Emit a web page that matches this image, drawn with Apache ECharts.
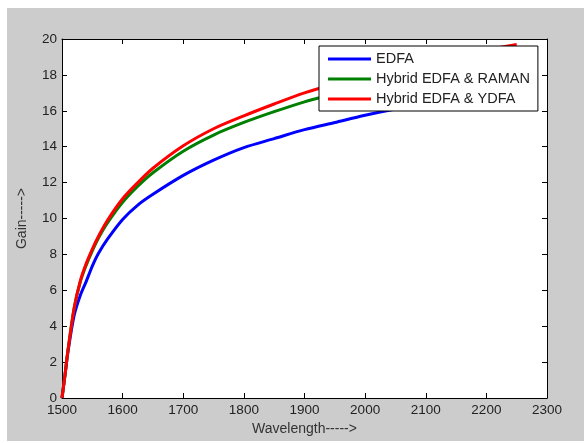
<!DOCTYPE html>
<html>
<head>
<meta charset="utf-8">
<script src="https://cdn.jsdelivr.net/npm/echarts@6/dist/echarts.min.js"></script>
<style>
  html, body { margin: 0; padding: 0; background: #fff; }
  #chart { position: absolute; left: 7px; top: 8px; width: 577px; height: 433px; background: #cccccc; }
</style>
</head>
<body>
<div id="chart"></div>
<script>
// wavelength samples
const wavelength = [1500, 1505, 1510, 1520, 1530, 1540, 1550, 1560, 1575, 1600, 1625, 1650,
  1700, 1750, 1800, 1850, 1900, 1950, 2000, 2050, 2100, 2150, 2200, 2250]
const edfa = [0, 1.3, 2.6, 4.6, 5.7, 6.5, 7.35, 8.05, 8.85, 9.95, 10.75, 11.35,
  12.4, 13.25, 13.95, 14.45, 14.95, 15.35, 15.75, 16.1, 16.4, 16.7, 17.0, 17.2]
const edfaRaman = [0, 1.3, 2.7, 5.0, 6.45, 7.4, 8.2, 8.9, 9.75, 10.9, 11.8, 12.55,
  13.75, 14.65, 15.35, 15.95, 16.5, 16.95, 17.4, 17.8, 18.15, 18.5, 18.8, 19.1]
const edfaYdfa = [0, 1.3, 2.7, 5.0, 6.5, 7.5, 8.3, 9.0, 9.9, 11.1, 12.0, 12.8,
  14.05, 15.0, 15.72, 16.38, 17.0, 17.5, 17.95, 18.35, 18.75, 19.1, 19.4, 19.7]
const seriesNames = ['EDFA', 'Hybrid EDFA & RAMAN', 'Hybrid EDFA & YDFA']

const font = "'Liberation Sans', Arial, sans-serif"
const myChart = echarts.init(document.getElementById('chart'))

const pairs = (ys) => wavelength.map((x, i) => [x, ys[i]])

const boxAxis = {
  axisLine: { show: true, onZero: false, lineStyle: { color: '#000', width: 1 } },
  axisTick: { show: true, inside: true, length: 5, lineStyle: { color: '#000' } },
  splitLine: { show: false }
}

myChart.setOption({
  animation: false,
  color: ['#0000ff', '#008000', '#ff0000'],
  grid: {
    left: 55,
    top: 31,
    right: 37,
    bottom: 40,
    show: true,
    backgroundColor: '#fff',
    borderWidth: 0
  },
  legend: {
    data: seriesNames,
    orient: 'vertical',
    left: 312,
    top: 38,
    padding: [3, 8, 2, 9],
    itemGap: 0,
    itemWidth: 43,
    itemHeight: 3,
    icon: 'rect',
    backgroundColor: '#fff',
    borderColor: '#000',
    borderWidth: 1,
    borderRadius: 0,
    textStyle: { fontFamily: font, fontSize: 14.5, color: '#222', lineHeight: 20 }
  },
  xAxis: [
    Object.assign({
      type: 'value',
      min: 1500,
      max: 2300,
      interval: 100,
      position: 'bottom',
      name: 'Wavelength----->',
      nameLocation: 'middle',
      nameGap: 24,
      nameTextStyle: { fontFamily: font, fontSize: 14, color: '#333' },
      axisLabel: {
        fontFamily: font, fontSize: 13.5, color: '#222', margin: 5,
        formatter: (v) => String(v)
      }
    }, boxAxis),
    Object.assign({
      type: 'value',
      min: 1500,
      max: 2300,
      interval: 100,
      position: 'top',
      axisLabel: { show: false }
    }, boxAxis)
  ],
  yAxis: [
    Object.assign({
      type: 'value',
      min: 0,
      max: 20,
      interval: 2,
      position: 'left',
      name: 'Gain----->',
      nameLocation: 'middle',
      nameGap: 33,
      nameTextStyle: { fontFamily: font, fontSize: 14, color: '#333' },
      axisLabel: { fontFamily: font, fontSize: 13.5, color: '#222', margin: 5 }
    }, boxAxis),
    Object.assign({
      type: 'value',
      min: 0,
      max: 20,
      interval: 2,
      position: 'right',
      axisLabel: { show: false }
    }, boxAxis)
  ],
  series: [
    {
      name: seriesNames[0],
      type: 'line',
      data: pairs(edfa),
      smooth: 0.3,
      showSymbol: false,
      lineStyle: { width: 3 }
    },
    {
      name: seriesNames[1],
      type: 'line',
      data: pairs(edfaRaman),
      smooth: 0.3,
      showSymbol: false,
      lineStyle: { width: 3 }
    },
    {
      name: seriesNames[2],
      type: 'line',
      data: pairs(edfaYdfa),
      smooth: 0.3,
      showSymbol: false,
      lineStyle: { width: 3 }
    }
  ]
})
</script>
</body>
</html>
